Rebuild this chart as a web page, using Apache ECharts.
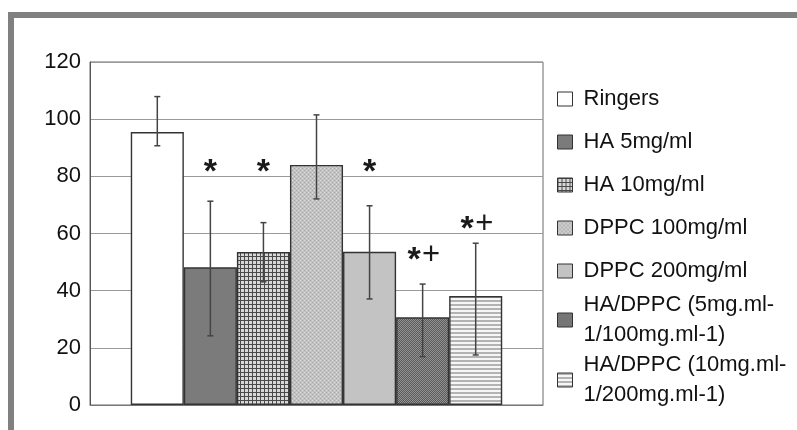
<!DOCTYPE html>
<html>
<head>
<meta charset="utf-8">
<script src="https://cdn.jsdelivr.net/npm/echarts@6/dist/echarts.min.js"></script>
<style>
  html, body { margin: 0; padding: 0; background: #fff; }
  #chart { width: 797px; height: 430px; }
</style>
</head>
<body>
<div id="chart"></div>
<script>
// Treatment groups (one bar each, shown in the legend)
const groups = [
  'Ringers',
  'HA 5mg/ml',
  'HA 10mg/ml',
  'DPPC 100mg/ml',
  'DPPC 200mg/ml',
  'HA/DPPC (5mg.ml-\n1/100mg.ml-1)',
  'HA/DPPC (10mg.ml-\n1/200mg.ml-1)'
];
// Mean values and error-bar limits
const means   = [95.5, 48.2, 53.5, 84.0, 53.6, 30.7, 38.1];
const errLow  = [90.7, 24.2, 43.1, 72.1, 37.1, 16.9, 17.5];
const errHigh = [107.9, 71.3, 63.8, 101.5, 69.7, 42.3, 56.6];
// Significance markers and the value level they sit at
const sigMarks = ['', '*', '*', '', '*', '*+', '*+'];
const sigLevel = [null, 83.6, 83.6, null, 83.6, 52.7, 63.6];
// Value axis
const yMin = 0, yMax = 120, yStep = 20;

const CATEGORY_GAP = 0.18;
const FONT = '"Liberation Sans", Arial, sans-serif';

function pattern(w, h, draw) {
  const c = document.createElement('canvas');
  c.width = w; c.height = h;
  draw(c.getContext('2d'));
  return { image: c, repeat: 'repeat' };
}
const fills = [
  '#ffffff',
  '#7b7b7b',
  pattern(4, 4, g => {           // fine plaid
    g.fillStyle = '#d8d8d8'; g.fillRect(0, 0, 4, 4);
    g.fillStyle = '#4a4a4a'; g.fillRect(0, 0, 4, 1); g.fillRect(0, 0, 1, 4);
  }),
  pattern(4, 4, g => {           // light stipple
    g.fillStyle = '#c2c2c2'; g.fillRect(0, 0, 4, 4);
    g.fillStyle = '#dcdcdc'; g.fillRect(0, 0, 1, 1); g.fillRect(2, 2, 1, 1);
    g.fillStyle = '#a8a8a8'; g.fillRect(2, 0, 1, 1); g.fillRect(0, 2, 1, 1);
  }),
  '#c3c3c3',
  pattern(2, 2, g => {           // dark stipple
    g.fillStyle = '#5a5a5a'; g.fillRect(0, 0, 2, 2);
    g.fillStyle = '#939393'; g.fillRect(0, 0, 1, 1); g.fillRect(1, 1, 1, 1);
  }),
  pattern(4, 4, g => {           // horizontal stripes
    g.fillStyle = '#f6f6f6'; g.fillRect(0, 0, 4, 4);
    g.fillStyle = '#b3b3b3'; g.fillRect(0, 0, 4, 2);
  })
];

const barSeries = groups.map((name, i) => ({
  name,
  type: 'bar',
  barGap: 0,
  barCategoryGap: (CATEGORY_GAP * 100) + '%',
  data: [means[i]],
  itemStyle: { color: fills[i], borderColor: '#333', borderWidth: 1.4 },
  emphasis: { disabled: true },
  z: 2
}));

const errorData = groups.map((_, i) => [0, errLow[i], errHigh[i], i]);

const errorSeries = {
  type: 'custom',
  name: 'error',
  data: errorData,
  encode: { x: 0, y: [1, 2] },
  z: 5,
  silent: true,
  renderItem(params, api) {
    const i = api.value(3);
    const band = api.size([1, 0])[0];
    const span = band * (1 - CATEGORY_GAP);
    const w = span / groups.length;
    const x = api.coord([0, 0])[0] - span / 2 + (i + 0.5) * w;
    const yLo = api.coord([0, api.value(1)])[1];
    const yHi = api.coord([0, api.value(2)])[1];
    const stroke = { stroke: '#444', lineWidth: 1.5 };
    const cap = 3;
    const children = [
      { type: 'line', shape: { x1: x, y1: yHi, x2: x, y2: yLo }, style: stroke },
      { type: 'line', shape: { x1: x - cap, y1: yHi, x2: x + cap, y2: yHi }, style: stroke },
      { type: 'line', shape: { x1: x - cap, y1: yLo, x2: x + cap, y2: yLo }, style: stroke }
    ];
    const mark = sigMarks[i];
    if (mark) {
      const yMark = api.coord([0, sigLevel[i]])[1];
      const chars = mark.split('');
      const step = 17;
      chars.forEach((ch, k) => {
        const cx = x + (k - (chars.length - 1) / 2) * step;
        const star = ch === '*';
        children.push({
          type: 'text',
          x: cx,
          y: yMark + (star ? 6.5 : 1),
          style: {
            text: ch,
            fill: '#1a1a1a',
            font: star ? 'bold 34px ' + FONT : '31px ' + FONT,
            textAlign: 'center',
            textVerticalAlign: 'middle'
          }
        });
      });
    }
    return { type: 'group', children };
  }
};

const legendText = { fontFamily: FONT, fontSize: 22, color: '#111', padding: [0, 0, 0, 6] };
const legendBase = {
  orient: 'vertical',
  left: 557,
  padding: 0,
  icon: 'rect',
  itemWidth: 15,
  itemHeight: 14,
  selectedMode: false,
  itemStyle: { borderColor: '#333', borderWidth: 1 }
};

const chart = echarts.init(document.getElementById('chart'), null, { renderer: 'canvas' });
chart.setOption({
  animation: false,
  backgroundColor: '#ffffff',
  grid: {
    left: 90, right: 254, top: 62, bottom: 25,
    show: true, borderColor: '#6a6a6a', borderWidth: 1, backgroundColor: 'transparent'
  },
  xAxis: {
    type: 'category',
    data: [''],
    axisLine: { show: true, lineStyle: { color: '#777', width: 1 } },
    axisTick: { show: false },
    axisLabel: { show: false }
  },
  yAxis: {
    type: 'value',
    min: yMin, max: yMax, interval: yStep,
    axisLine: { show: true, lineStyle: { color: '#555', width: 1 } },
    axisTick: { show: false },
    axisLabel: { margin: 9, fontFamily: FONT, fontSize: 22, color: '#111' },
    splitLine: { show: true, lineStyle: { color: '#9a9a9a', width: 1 } }
  },
  legend: [
    Object.assign({}, legendBase, {
      top: 85, itemGap: 15,
      data: groups.slice(0, 5),
      textStyle: Object.assign({}, legendText, { lineHeight: 28 })
    }),
    Object.assign({}, legendBase, {
      top: 290, itemGap: 0,
      data: groups.slice(5),
      textStyle: Object.assign({}, legendText, { lineHeight: 30 })
    })
  ],
  graphic: [
    { type: 'rect', left: 8, top: 12, shape: { width: 789, height: 6 }, style: { fill: '#808080' }, silent: true },
    { type: 'rect', left: 8, top: 12, shape: { width: 6, height: 418 }, style: { fill: '#808080' }, silent: true }
  ],
  series: barSeries.concat([errorSeries])
});
</script>
</body>
</html>
